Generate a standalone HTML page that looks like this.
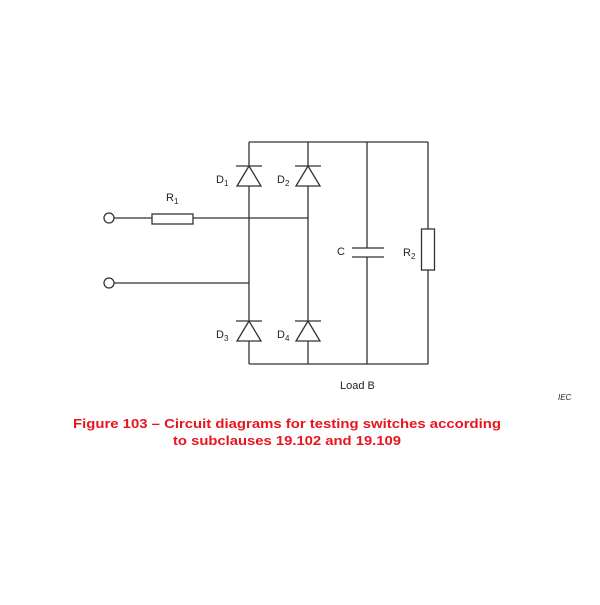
<!DOCTYPE html>
<html><head><style>html,body{margin:0;padding:0;background:#fff}</style></head>
<body>
<svg width="600" height="600" viewBox="0 0 600 600" xmlns="http://www.w3.org/2000/svg" font-family="Liberation Sans, sans-serif">
<g stroke="#333" stroke-width="1.3" fill="none">
<!-- top & bottom rails -->
<line x1="249" y1="142" x2="428" y2="142"/>
<line x1="249" y1="364" x2="428" y2="364"/>
<!-- left bridge column -->
<line x1="249" y1="142" x2="249" y2="364"/>
<line x1="308" y1="142" x2="308" y2="364"/>
<!-- cap column -->
<line x1="367" y1="142" x2="367" y2="248"/>
<line x1="367" y1="257" x2="367" y2="364"/>
<line x1="352" y1="248" x2="384" y2="248"/>
<line x1="352" y1="257" x2="384" y2="257"/>
<!-- R2 column -->
<line x1="428" y1="142" x2="428" y2="229"/>
<line x1="428" y1="270" x2="428" y2="364"/>
<rect x="421.5" y="229" width="13" height="41" fill="#fff"/>
<!-- inputs -->
<circle cx="109" cy="218" r="5" fill="#fff"/>
<circle cx="109" cy="283" r="5" fill="#fff"/>
<line x1="114" y1="218" x2="152" y2="218"/>
<rect x="152" y="214" width="41" height="10" fill="#fff"/>
<line x1="193" y1="218" x2="308" y2="218"/>
<line x1="114" y1="283" x2="249" y2="283"/>
<!-- diodes -->
<g fill="#fff">
<polygon points="249,166 237,186 261,186"/>
<polygon points="308,166 296,186 320,186"/>
<polygon points="249,321 237,341 261,341"/>
<polygon points="308,321 296,341 320,341"/>
</g>
<line x1="236" y1="166" x2="262" y2="166"/>
<line x1="295" y1="166" x2="321" y2="166"/>
<line x1="236" y1="321" x2="262" y2="321"/>
<line x1="295" y1="321" x2="321" y2="321"/>
</g>
<g fill="#222" font-size="11">
<text x="216" y="183">D<tspan font-size="8" dy="3">1</tspan></text>
<text x="277" y="183">D<tspan font-size="8" dy="3">2</tspan></text>
<text x="216" y="338">D<tspan font-size="8" dy="3">3</tspan></text>
<text x="277" y="338">D<tspan font-size="8" dy="3">4</tspan></text>
<text x="166" y="201">R<tspan font-size="8" dy="3">1</tspan></text>
<text x="403" y="256">R<tspan font-size="8" dy="3">2</tspan></text>
<text x="337" y="255">C</text>
<text x="340" y="389">Load B</text>
<text x="558" y="400" font-size="8" font-style="italic">IEC</text>
</g>
<g fill="#e8141e" font-size="13" font-weight="bold">
<text x="73" y="428" textLength="428" lengthAdjust="spacingAndGlyphs">Figure 103 – Circuit diagrams for testing switches according</text>
<text x="173" y="445" textLength="228" lengthAdjust="spacingAndGlyphs">to subclauses 19.102 and 19.109</text>
</g>
</svg>
</body></html>
